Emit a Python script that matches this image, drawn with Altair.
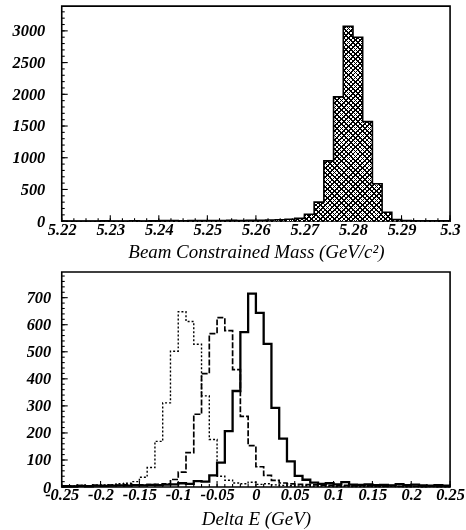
import math
import altair as alt
import pandas as pd

# ---- Beam constrained mass histogram (0.002 GeV bins starting at 5.220) ----
MBC_START = 5.220
MBC_WIDTH = 0.002
mbc_counts = [3, 2, 4, 3, 5, 4, 3, 6, 4, 5,
              9, 10, 8, 11, 10, 12, 11, 13, 12, 14,
              16, 18, 22, 30, 45, 110, 300, 950, 1960, 3070,
              2900, 1570, 590, 140, 25, 10, 8, 7, 6, 6]
mbc_labels = [5.22, 5.23, 5.24, 5.25, 5.26, 5.27, 5.28, 5.29, 5.3]
mbc_y_labels = [0, 500, 1000, 1500, 2000, 2500, 3000]

# ---- Delta E histograms (0.01 GeV bins starting at -0.25) ----
DE_START = -0.25
DE_WIDTH = 0.01
de_solid = [3, 2, 4, 3, 5, 4, 5, 6, 5, 7,
            6, 8, 7, 9, 10, 14, 12, 22, 20, 43,
            90, 207, 355, 573, 715, 644, 529, 293, 179, 95,
            41, 27, 16, 12, 14, 10, 18, 9, 8, 10,
            7, 8, 6, 11, 7, 9, 6, 5, 7, 5]
de_dashed = [4, 3, 5, 4, 6, 5, 7, 6, 8, 7,
             8, 9, 10, 12, 28, 55, 127, 269, 419, 567,
             626, 578, 434, 261, 153, 75, 43, 25, 15, 12,
             10, 9, 8, 7, 6, 5, 6, 4, 5, 4,
             4, 3, 5, 3, 4, 3, 2, 3, 2, 2]
de_dotted = [5, 4, 6, 5, 7, 8, 9, 12, 14, 20,
             36, 72, 169, 311, 502, 648, 612, 528, 337, 176,
             40, 25, 15, 12, 18, 10, 12, 8, 6, 5,
             4, 5, 3, 4, 3, 2, 3, 2, 2, 3,
             2, 2, 3, 2, 1, 2, 1, 2, 1, 1]
de_labels = [-0.25, -0.2, -0.15, -0.1, -0.05, 0, 0.05, 0.1, 0.15, 0.2, 0.25]
de_y_labels = [0, 100, 200, 300, 400, 500, 600, 700]

# ---- panel geometry ----
PW, PH = 390, 216
MBC_YMAX = 3390
DE_YMAX = 795
SERIF = "Liberation Serif"
LABEL_SIZE = 16.5
TITLE_SIZE = 19


def step_table(start, width, counts):
    """Left bin edges plus the closing right edge, for step-after drawing."""
    n = len(counts)
    xs = [round(start + width * i, 4) for i in range(n + 1)]
    ys = list(counts) + [counts[-1]]
    return pd.DataFrame({"x": xs, "y": ys})


def hatch_fill(direction, box_w, box_h, period=3.3, line=1.15):
    """45-degree stripe gradient for an area whose bounding box is box_w x box_h px."""
    a = 1.5
    b = a * box_h / box_w
    if direction == "/":
        x1, y1, x2, y2 = 0, 0, a, b
    else:
        x1, y1, x2, y2 = 0, 1, a, 1 - b
    span = (a * box_w + b * box_h) / math.sqrt(2)
    stops = []
    i = 0
    while i * period < span:
        o0 = i * period / span
        o1 = min((i * period + line) / span, 1.0)
        o2 = min((i + 1) * period / span, 1.0)
        stops += [alt.GradientStop(color="#000000", offset=o0),
                  alt.GradientStop(color="#000000", offset=o1),
                  alt.GradientStop(color="#ffffff", offset=o1),
                  alt.GradientStop(color="#ffffff", offset=o2)]
        i += 1
    return alt.LinearGradient(gradient="linear", stops=stops,
                              x1=x1, y1=y1, x2=x2, y2=y2)


def x_axis(title, values, title_pad):
    return alt.Axis(title=title, values=values, labelExpr="toString(datum.value)",
                    ticks=False, domain=False, grid=False, labelOverlap=False,
                    labelFlush=False, labelPadding=0, titlePadding=title_pad,
                    labelFont=SERIF, labelFontSize=LABEL_SIZE, labelFontStyle="italic",
                    labelFontWeight="bold", labelColor="black",
                    titleFont=SERIF, titleFontSize=TITLE_SIZE, titleFontStyle="italic",
                    titleFontWeight="normal", titleColor="black")


def y_axis(values, pad):
    return alt.Axis(title=None, values=values, labelExpr="toString(datum.value)",
                    ticks=False, domain=False, grid=False,
                    labelOverlap=False, labelFlush=False, labelPadding=pad,
                    labelFont=SERIF, labelFontSize=LABEL_SIZE, labelFontStyle="italic",
                    labelFontWeight="bold", labelColor="black")


def tick_layers(xvals, yvals, xscale, yscale, xaxis, yaxis,
                x_major, y_major, major_len=6, minor_len=3):
    """Inward-pointing major and minor ticks along the bottom and left edges."""
    layers = []
    for vals, length in ((xvals, minor_len), (x_major, major_len)):
        df = pd.DataFrame({"x": vals})
        layers.append(alt.Chart(df).mark_rule(color="black", strokeWidth=1.1).encode(
            x=alt.X("x:Q", scale=xscale, axis=xaxis),
            y=alt.value(PH), y2=alt.value(PH - length)))
    for vals, length in ((yvals, minor_len), (y_major, major_len)):
        df = pd.DataFrame({"y": vals})
        layers.append(alt.Chart(df).mark_rule(color="black", strokeWidth=1.1).encode(
            y=alt.Y("y:Q", scale=yscale, axis=yaxis),
            x=alt.value(0), x2=alt.value(length)))
    return layers


# ---------------- top panel: beam constrained mass ----------------
mbc_df = step_table(MBC_START, MBC_WIDTH, mbc_counts)
mbc_x = alt.Scale(domain=[5.22, 5.30], nice=False, zero=False)
mbc_y = alt.Scale(domain=[0, MBC_YMAX], nice=False)
mbc_xaxis = x_axis("Beam Constrained Mass (GeV/c\u00b2)", mbc_labels, 5)
mbc_yaxis = y_axis(mbc_y_labels, 17)

mbc_minor_x = [round(5.22 + 0.0025 * i, 4) for i in range(33)]
mbc_minor_y = list(range(0, 3400, 100))
mbc_ticks = tick_layers(mbc_minor_x, mbc_minor_y, mbc_x, mbc_y, mbc_xaxis, mbc_yaxis,
                        x_major=mbc_labels, y_major=mbc_y_labels)

box_h = max(mbc_counts) / MBC_YMAX * PH
mbc_base = alt.Chart(mbc_df).encode(
    x=alt.X("x:Q", scale=mbc_x, axis=mbc_xaxis),
    y=alt.Y("y:Q", scale=mbc_y, axis=mbc_yaxis),
)
hatch_a = mbc_base.mark_area(interpolate="step-after",
                             fill=hatch_fill("/", PW, box_h))
hatch_b = mbc_base.mark_area(interpolate="step-after", blend="multiply",
                             fill=hatch_fill("\\", PW, box_h))
mbc_outline = mbc_base.mark_line(interpolate="step-after", color="black",
                                 strokeWidth=1.6)

top = alt.layer(*mbc_ticks, hatch_a, hatch_b, mbc_outline).properties(
    width=PW, height=PH)

# ---------------- bottom panel: delta E ----------------
de_x = alt.Scale(domain=[-0.25, 0.25], nice=False, zero=False)
de_y = alt.Scale(domain=[0, DE_YMAX], nice=False)
de_xaxis = x_axis("Delta E (GeV)", de_labels, 6)
de_yaxis = y_axis(de_y_labels, 11)

de_minor_x = [round(-0.25 + 0.01 * i, 3) for i in range(51)]
de_minor_y = list(range(0, 800, 20))
de_ticks = tick_layers(de_minor_x, de_minor_y, de_x, de_y, de_xaxis, de_yaxis,
                       x_major=de_labels, y_major=de_y_labels)


def de_line(counts, **style):
    return alt.Chart(step_table(DE_START, DE_WIDTH, counts)).mark_line(
        interpolate="step-after", color="black", **style).encode(
        x=alt.X("x:Q", scale=de_x, axis=de_xaxis),
        y=alt.Y("y:Q", scale=de_y, axis=de_yaxis),
    )


dotted = de_line(de_dotted, strokeWidth=1.4, strokeDash=[2, 2])
dashed = de_line(de_dashed, strokeWidth=1.7, strokeDash=[6, 2])
solid = de_line(de_solid, strokeWidth=2.3)

bottom = alt.layer(*de_ticks, dotted, dashed, solid).properties(width=PW, height=PH)

chart = alt.vconcat(top, bottom, spacing=51, bounds="flush").properties(
    padding={"left": 11, "top": 4, "right": 0, "bottom": 0},
    background="white",
).configure_view(stroke="black", strokeWidth=1.6)

chart.save("out.html", embed_options={"renderer": "svg", "actions": False})
